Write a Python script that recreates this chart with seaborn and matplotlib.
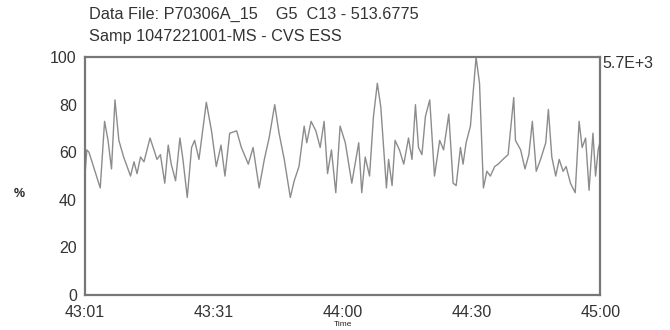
import numpy as np
import pandas as pd
import seaborn as sns
import matplotlib.pyplot as plt

# retention time (s) and relative abundance (%)
time_s = [2581.0, 2581.4, 2581.9, 2584.5, 2585.5, 2586.3, 2587.1, 2587.9, 2588.8, 2589.9,
          2591.5, 2592.3, 2593.0, 2593.8, 2594.6, 2596.0, 2596.9, 2597.6, 2598.4, 2599.4,
          2600.2, 2600.9, 2601.9, 2602.9, 2603.6, 2604.6, 2605.6, 2606.3, 2607.3, 2609.0,
          2610.2, 2611.3, 2612.4, 2613.3, 2614.4, 2616.0, 2617.1, 2618.7, 2619.8, 2621.2,
          2622.4, 2623.5, 2624.8, 2625.8, 2627.0, 2628.4, 2629.3, 2630.4, 2631.6, 2632.2,
          2633.2, 2634.3, 2635.3, 2636.2, 2637.0, 2637.9, 2638.9, 2639.9, 2641.1, 2642.6,
          2644.2, 2644.9, 2645.7, 2646.7, 2647.6, 2648.5, 2649.3, 2650.6, 2651.1, 2651.9,
          2652.6, 2653.6, 2654.6, 2655.7, 2656.5, 2657.3, 2658.0, 2658.8, 2659.6, 2660.6,
          2661.7, 2662.9, 2663.8, 2665.0, 2666.0, 2666.7, 2667.7, 2668.3, 2669.0, 2670.0,
          2671.3, 2672.1, 2673.0, 2673.8, 2674.6, 2675.6, 2676.4, 2677.5, 2678.7, 2680.0,
          2680.4, 2681.6, 2682.6, 2683.5, 2684.3, 2685.2, 2686.2, 2687.4, 2688.0, 2688.8,
          2689.7, 2690.5, 2691.4, 2692.1, 2693.1, 2694.2, 2695.1, 2695.8, 2696.6, 2697.4,
          2698.3, 2698.9, 2699.5, 2699.9]
pct = [51, 61, 60, 45, 73, 65, 53, 82, 65, 58,
       50, 56, 51, 58, 56, 66, 61, 57, 59, 47,
       63, 55, 48, 66, 57, 41, 62, 65, 57, 81,
       69, 54, 63, 50, 68, 69, 62, 55, 62, 45,
       57, 66, 80, 68, 57, 41, 48, 54, 71, 64,
       73, 69, 62, 73, 51, 61, 43, 71, 64, 47,
       64, 43, 58, 50, 75, 89, 79, 45, 57, 46,
       65, 61, 55, 66, 57, 80, 62, 59, 75, 82,
       50, 65, 61, 76, 47, 46, 62, 55, 64, 71,
       100, 89, 45, 52, 50, 54, 55, 57, 59, 83,
       65, 61, 53, 59, 73, 52, 57, 64, 78, 58,
       50, 57, 52, 54, 47, 43, 73, 62, 66, 44,
       68, 50, 61, 64]

x_ticklabels = ["43:01", "43:31", "44:00", "44:30", "45:00"]
y_ticks = [0, 20, 40, 60, 80, 100]
title_lines = ["Data File: P70306A_15    G5  C13 - 513.6775",
               "Samp 1047221001-MS - CVS ESS"]
scale_text = "5.7E+3"

df = pd.DataFrame({"time": time_s, "pct": pct})

sns.set_style("white")
plt.rcParams['font.family'] = ['Liberation Sans', 'DejaVu Sans']

fig = plt.figure(figsize=(6.7, 3.3), dpi=100)
ax = fig.add_axes([0.127, 0.106, 0.769, 0.721])
sns.lineplot(data=df, x="time", y="pct", ax=ax, color="#8c8c8c", linewidth=1.0)

ax.set_xlim(2581, 2700)
ax.set_ylim(0, 100)
ax.set_xticks(np.linspace(2581, 2700, len(x_ticklabels)))
ax.set_xticklabels(x_ticklabels, fontsize=11.5, color="#333333")
ax.set_yticks(y_ticks)
ax.set_yticklabels([str(v) for v in y_ticks], fontsize=11.5, color="#333333")
ax.tick_params(length=0, pad=6)
ax.tick_params(axis="x", pad=7)
for s in ax.spines.values():
    s.set_color("#777777")
    s.set_linewidth(1.6)

ax.set_xlabel("Time", fontsize=6, labelpad=1)
ax.set_ylabel("%", rotation=0, fontsize=9, fontweight="bold", labelpad=0)
ax.yaxis.set_label_coords(-0.128, 0.40)

fig.text(0.133, 0.955, title_lines[0], fontsize=11.7, color="#333333", va="center")
fig.text(0.133, 0.89, title_lines[1], fontsize=11.7, color="#333333", va="center")
ax.text(1.004, 0.975, scale_text, transform=ax.transAxes, fontsize=11.5,
        color="#333333", ha="left", va="center")

fig.savefig("out.png", dpi=100)
